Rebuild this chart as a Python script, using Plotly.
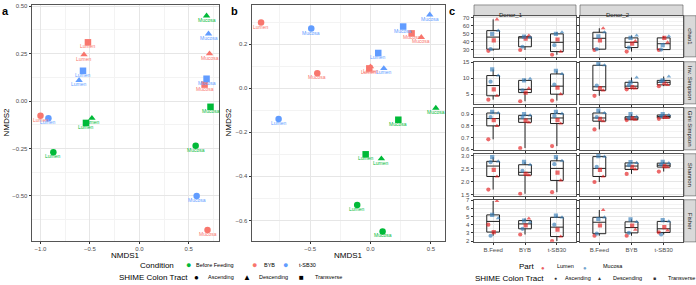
import plotly.graph_objects as go

W, H = 696, 285


def px(x):
    return x / W


def py(y):
    return 1 - y / H


# ---------------- Panel a / b data ----------------
conditions = ["Before Feeding", "BYB", "t-SB30"]
tracts = ["Ascending", "Descending", "Transverse"]
parts = ["Lumen", "Mucosa"]
sample_condition = [c for c in conditions for _ in range(6)]
sample_part = [p for c in conditions for p in parts for _ in range(3)]
sample_tract = [t for c in conditions for p in parts for t in tracts]

nmds_a_x = [-0.87, -0.48, -0.54, 0.57, 0.68, 0.72,
            -1.00, -0.56, -0.52, 0.69, 0.71, 0.66,
            -0.92, -0.61, -0.57, 0.58, 0.70, 0.68]
nmds_a_y = [-0.27, -0.09, -0.115, -0.235, 0.45, -0.03,
            -0.077, 0.245, 0.31, -0.68, 0.25, 0.087,
            -0.09, 0.11, 0.16, -0.50, 0.355, 0.118]

nmds_b_x = [-0.11, 0.09, -0.04, 0.10, 0.54, 0.23,
            -0.905, 0.00, -0.01, -0.44, 0.42, 0.34,
            -0.76, 0.11, 0.064, -0.49, 0.49, 0.27]
nmds_b_y = [-0.53, -0.32, -0.30, -0.65, -0.09, -0.143,
            0.298, 0.098, 0.09, 0.068, 0.231, 0.249,
            -0.14, 0.09, 0.16, 0.271, 0.333, 0.28]

# ---------------- Panel c data ----------------
metrics = ["chao1", "Inv. Simpson", "Gini Simpson", "Shannon", "Fisher"]
donors = ["Donor_1", "Donor_2"]
groups = ["B.Feed", "BYB", "t-SB30"]
# each group: [Lumen Asc, Lumen Desc, Lumen Trans, Mucosa Asc, Mucosa Desc, Mucosa Trans]
chao1_donor1 = [[29, 68, 42, 31, 54, 50], [30, 48, 44, 34, 46, 46.5], [24, 28, 43, 36, 52, 50]]
chao1_donor2 = [[30, 57, 42, 31, 52, 47], [28, 41, 38, 33, 48, 45], [30, 39.5, 45, 30.5, 47, 36]]
invsimpson_donor1 = [[3.3, 4.5, 6.5, 8.9, 10.8, 12.7], [2.8, 6.8, 5.5, 6.2, 9.8, 9.3], [3.0, 5.0, 7.0, 8.0, 11.3, 12.3]]
invsimpson_donor2 = [[4.5, 6.2, 6.9, 7.7, 14.0, 14.5], [6.5, 6.8, 7.2, 7.8, 10.2, 8.7], [7.5, 7.9, 8.4, 9.0, 10.5, 9.3]]
gini_donor1 = [[0.685, 0.80, 0.85, 0.875, 0.91, 0.92], [0.61, 0.83, 0.845, 0.875, 0.89, 0.90], [0.627, 0.82, 0.85, 0.885, 0.905, 0.92]]
gini_donor2 = [[0.77, 0.84, 0.86, 0.875, 0.91, 0.93], [0.85, 0.853, 0.865, 0.868, 0.878, 0.90], [0.86, 0.868, 0.876, 0.884, 0.893, 0.90]]
shannon_donor1 = [[1.7, 2.2, 2.45, 2.75, 2.78, 2.94], [1.54, 2.25, 2.3, 2.42, 2.65, 2.76], [1.6, 2.05, 2.35, 2.67, 2.8, 2.94]]
shannon_donor2 = [[1.99, 2.2, 2.45, 2.57, 2.96, 2.98], [2.3, 2.47, 2.57, 2.63, 2.72, 2.75], [2.39, 2.56, 2.6, 2.66, 2.71, 2.76]]
fisher_donor1 = [[4.0, 6.9, 3.1, 2.65, 4.8, 5.2], [2.8, 4.75, 3.9, 3.5, 4.3, 4.5], [2.0, 2.55, 3.4, 4.0, 4.9, 5.1]]
fisher_donor2 = [[2.65, 5.8, 3.9, 2.9, 4.9, 4.7], [2.65, 3.4, 3.9, 3.0, 4.35, 4.65], [3.05, 3.3, 3.7, 2.8, 4.4, 4.55]]

metric_data = [
    (chao1_donor1, chao1_donor2),
    (invsimpson_donor1, invsimpson_donor2),
    (gini_donor1, gini_donor2),
    (shannon_donor1, shannon_donor2),
    (fisher_donor1, fisher_donor2),
]

# ---------------- styles ----------------
FONT = "Liberation Sans, Arial, sans-serif"
COND_COLORS = {"Before Feeding": "#00BA38", "BYB": "#F8766D", "t-SB30": "#619CFF"}
PART_COLORS = {"Lumen": "#E41A1C", "Mucosa": "#377EB8"}
SYMBOLS = {"Ascending": "circle", "Descending": "triangle-up", "Transverse": "square"}
GRID = "#E6E6E6"
MINOR = "#F3F3F3"
BORDER = "#555555"
TICKC = "#4D4D4D"
JITTER = [-0.15, 0.12, 0.02, -0.08, 0.16, -0.03]

row_ranges = [[21.5, 72.5], [2.0, 15.1], [0.595, 0.955], [1.46, 3.07], [1.9, 7.05]]
row_dticks = [10, 5, 0.1, 0.5, 1]
row_formats = ["d", "d", ".1f", ".1f", "d"]
row_px = [(13, 55), (60, 103), (107, 150), (154, 197), (201, 244)]
col_px = [(474, 576), (580, 683)]

fig = go.Figure()

AX = dict(showline=True, mirror=True, linecolor=BORDER, linewidth=0.8,
          ticks="outside", ticklen=2.5, tickwidth=0.6, tickcolor="#333333",
          showgrid=True, gridcolor=GRID, gridwidth=0.8, zeroline=False,
          tickfont=dict(size=6, color=TICKC, family=FONT))

annotations = []

# ---------------- Panels a & b ----------------
for pi, (xs, ys, ax) in enumerate([(nmds_a_x, nmds_a_y, ""), (nmds_b_x, nmds_b_y, "2")]):
    for cond in conditions:
        idx = [i for i, c in enumerate(sample_condition) if c == cond]
        fig.add_trace(go.Scatter(
            x=[xs[i] for i in idx], y=[ys[i] for i in idx], mode="markers",
            marker=dict(color=COND_COLORS[cond], size=6.5,
                        symbol=[SYMBOLS[sample_tract[i]] for i in idx], line=dict(width=0)),
            xaxis="x" + ax, yaxis="y" + ax, showlegend=False, hoverinfo="skip"))
    for i in range(len(xs)):
        annotations.append(dict(x=xs[i], y=ys[i], xref="x" + ax, yref="y" + ax,
                                text=sample_part[i], showarrow=False, yshift=-4,
                                font=dict(size=5, color=COND_COLORS[sample_condition[i]], family=FONT)))

layout = dict(
    width=W, height=H, autosize=False,
    margin=dict(l=0, r=0, t=0, b=0),
    paper_bgcolor="white", plot_bgcolor="white",
    showlegend=False, boxmode="overlay",
    font=dict(family=FONT),
)

layout["xaxis"] = dict(AX, domain=[px(32), px(219)], anchor="y", range=[-1.086, 0.806],
                       dtick=0.5, tick0=0, tickformat=".1f",
                       minor=dict(dtick=0.25, tick0=0, showgrid=True, gridcolor=MINOR, gridwidth=0.5, ticks=""))
layout["yaxis"] = dict(AX, domain=[py(243), py(2)], anchor="x", range=[-0.737, 0.507],
                       dtick=0.25, tick0=0, tickformat=".2f",
                       minor=dict(dtick=0.125, tick0=0, showgrid=True, gridcolor=MINOR, gridwidth=0.5, ticks=""))
layout["xaxis2"] = dict(AX, domain=[px(252), px(445)], anchor="y2", range=[-0.98, 0.616],
                        dtick=0.5, tick0=0, tickformat=".1f",
                        minor=dict(dtick=0.25, tick0=0, showgrid=True, gridcolor=MINOR, gridwidth=0.5, ticks=""))
layout["yaxis2"] = dict(AX, domain=[py(243), py(2)], anchor="x2", range=[-0.693, 0.378],
                        dtick=0.2, tick0=0, tickformat=".1f",
                        minor=dict(dtick=0.1, tick0=0, showgrid=True, gridcolor=MINOR, gridwidth=0.5, ticks=""))

# ---------------- Panel c ----------------
shapes = []
for r, metric in enumerate(metrics):
    for k, donor in enumerate(donors):
        n = 3 + r * 2 + k
        xa, ya = "x%d" % n, "y%d" % n
        data = metric_data[r][k]
        bx, by = [], []
        for g, vals in enumerate(data):
            bx += [g + 1] * len(vals)
            by += vals
        fig.add_trace(go.Box(x=bx, y=by, xaxis=xa, yaxis=ya, width=0.4, boxpoints=False,
                             quartilemethod="linear", whiskerwidth=0,
                             line=dict(color="#222222", width=1), fillcolor="rgba(0,0,0,0)",
                             showlegend=False, hoverinfo="skip"))
        for pi_, part in enumerate(parts):
            xs_, ys_, syms = [], [], []
            for g, vals in enumerate(data):
                for t in range(3):
                    j = pi_ * 3 + t
                    xs_.append(g + 1 + JITTER[j])
                    ys_.append(vals[j])
                    syms.append(SYMBOLS[tracts[t]])
            fig.add_trace(go.Scatter(x=xs_, y=ys_, xaxis=xa, yaxis=ya, mode="markers",
                                     marker=dict(color=PART_COLORS[part], opacity=0.65, size=4.2,
                                                 symbol=syms, line=dict(width=0)),
                                     showlegend=False, hoverinfo="skip"))
        x0, x1 = col_px[k]
        y0, y1 = row_px[r]
        layout["xaxis%d" % n] = dict(AX, domain=[px(x0), px(x1)], anchor=ya, range=[0.4, 3.6],
                                     tickvals=[1, 2, 3], ticktext=groups,
                                     showticklabels=(r == len(metrics) - 1))
        layout["yaxis%d" % n] = dict(AX, domain=[py(y1), py(y0)], anchor=xa, range=row_ranges[r],
                                     dtick=row_dticks[r], tick0=0, tickformat=row_formats[r],
                                     showticklabels=(k == 0),
                                     minor=dict(dtick=row_dticks[r] / 2, tick0=0, showgrid=True,
                                                gridcolor=MINOR, gridwidth=0.5, ticks=""))

# strips
for k, donor in enumerate(donors):
    x0, x1 = col_px[k]
    shapes.append(dict(type="rect", xref="paper", yref="paper", x0=px(x0), x1=px(x1),
                       y0=py(13), y1=py(2), fillcolor="#D9D9D9", line=dict(color="#555555", width=0.6), layer="below"))
    annotations.append(dict(x=px((x0 + x1) / 2), y=py(7.5), xref="paper", yref="paper", text=donor,
                            showarrow=False, font=dict(size=6, color="#1A1A1A", family=FONT)))
for r, metric in enumerate(metrics):
    y0, y1 = row_px[r]
    shapes.append(dict(type="rect", xref="paper", yref="paper", x0=px(684), x1=px(696),
                       y0=py(y1), y1=py(y0), fillcolor="#D9D9D9", line=dict(color="#555555", width=0.6), layer="below"))
    annotations.append(dict(x=px(690), y=py((y0 + y1) / 2), xref="paper", yref="paper", text=metric,
                            textangle=90, showarrow=False, xanchor="center", yanchor="middle",
                            font=dict(size=6, color="#1A1A1A", family=FONT)))


# ---------------- titles / labels ----------------
def label(x, y, text, size, color="black", xanchor="center", angle=0, bold=False, yshift=0):
    annotations.append(dict(x=px(x), y=py(y), xref="paper", yref="paper",
                            text=("<b>%s</b>" % text) if bold else text, showarrow=False,
                            xanchor=xanchor, yanchor="middle", textangle=angle, yshift=yshift,
                            font=dict(size=size, color=color, family=FONT)))


label(5, 8, "a", 11, bold=True)
label(234, 8, "b", 11, bold=True)
label(452, 8, "c", 11, bold=True)
label(125.5, 258, "NMDS1", 8)
label(348.5, 258, "NMDS1", 8)
label(6, 122, "NMDS2", 8, angle=-90)
label(228, 122, "NMDS2", 8, angle=-90)

# legend for a/b
label(176, 268, "Condition", 8, xanchor="right")
cond_leg_x = [(188, 194), (254, 262), (285, 297)]
for cond, (sx, tx) in zip(conditions, cond_leg_x):
    label(sx, 268, "●", 9, color=COND_COLORS[cond])
    label(tx, 268, cond, 5.5, xanchor="left")
label(190, 280, "SHIME Colon Tract", 8, xanchor="right")
tract_leg_x = [(196, 206, "●"), (247, 257, "▲"), (301, 313, "■")]
for tr, (sx, tx, g) in zip(tracts, tract_leg_x):
    label(sx, 280, g, 8, color="black")
    label(tx, 280, tr, 5.5, xanchor="left")

# legend for c
label(536, 269, "Part", 8, xanchor="right")
part_leg_x = [(547, 555), (589, 601)]
for part, (sx, tx) in zip(parts, part_leg_x):
    annotations.append(dict(x=px(sx), y=py(269), xref="paper", yref="paper", text="●", showarrow=False,
                            yanchor="middle", yshift=-2, font=dict(size=6, color=PART_COLORS[part], family=FONT),
                            opacity=0.7))
    label(tx, 269, part, 5.5, xanchor="left")
label(546, 281, "SHIME Colon Tract", 8, xanchor="right")
tract_leg_c = [(555, 563, "●"), (599, 611, "▲"), (654, 666, "■")]
for tr, (sx, tx, g) in zip(tracts, tract_leg_c):
    label(sx, 281, g, 5, color="#333333")
    label(tx, 281, tr, 5.5, xanchor="left")

layout["annotations"] = annotations
layout["shapes"] = shapes
fig.update_layout(**layout)
fig.write_html("out.html", config={"displayModeBar": False},
               post_script="document.body.style.margin='0';document.body.style.overflow='hidden';")
